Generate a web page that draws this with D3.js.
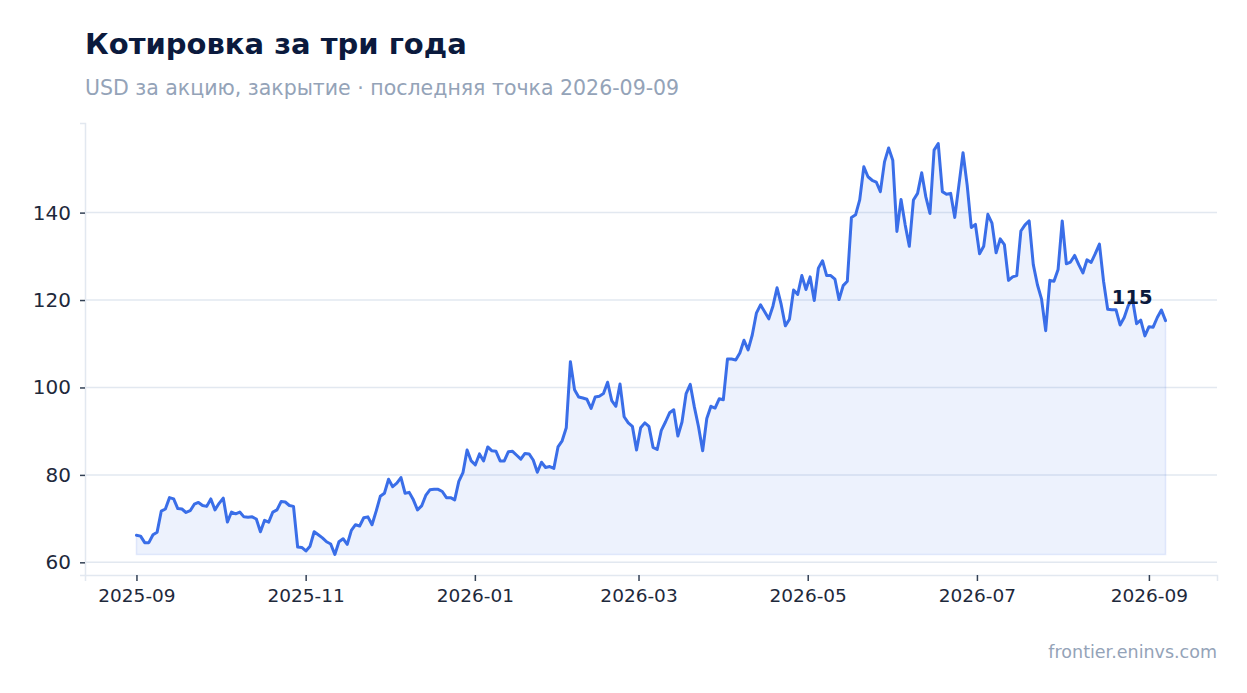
<!DOCTYPE html>
<html>
<head>
<meta charset="utf-8">
<script src="https://cdn.jsdelivr.net/npm/d3@7"></script>
<style>
  body { margin: 0; background: #fff; }
  svg { display: block; font-family: "DejaVu Sans", sans-serif; }
</style>
</head>
<body>
<div id="chart"></div>
<script>
// данные: цена закрытия, точки равномерно от первой до последней даты
const startDate = new Date(2025, 8, 1);
const endDate = new Date(2026, 8, 7);
const prices = [
  66.2, 66.0, 64.5, 64.5, 66.3, 66.9, 71.7, 72.2, 74.8, 74.5,
  72.3, 72.2, 71.4, 71.8, 73.3, 73.7, 73.0, 72.8, 74.5, 72.0,
  73.5, 74.7, 69.2, 71.5, 71.1, 71.5, 70.4, 70.3, 70.4, 69.9,
  67.0, 69.6, 69.2, 71.5, 72.0, 73.9, 73.8, 73.0, 72.8, 63.5,
  63.4, 62.6, 63.7, 67.0, 66.3, 65.6, 64.7, 64.2, 61.8, 64.7,
  65.4, 64.1, 67.3, 68.6, 68.3, 70.2, 70.4, 68.6, 71.7, 75.1,
  75.8, 79.0, 77.3, 78.1, 79.4, 75.8, 76.0, 74.3, 72.0, 72.9,
  75.3, 76.6, 76.7, 76.7, 76.2, 74.8, 74.8, 74.3, 78.5, 80.5,
  85.7, 83.2, 82.3, 84.8, 83.2, 86.4, 85.5, 85.4, 83.2, 83.2,
  85.3, 85.4, 84.5, 83.6, 84.9, 84.8, 83.4, 80.6, 82.9, 81.7,
  81.9, 81.5, 86.4, 87.8, 90.8, 105.9, 99.5, 97.8, 97.6, 97.3,
  95.2, 97.8, 98.0, 98.6, 101.2, 97.0, 95.7, 100.8, 93.3, 91.9,
  91.1, 85.7, 90.8, 91.9, 91.1, 86.3, 85.8, 90.2, 92.1, 94.2,
  94.9, 88.9, 92.1, 98.6, 100.7, 95.5, 91.0, 85.5, 92.9, 95.7,
  95.3, 97.4, 97.2, 106.5, 106.5, 106.3, 107.9, 110.8, 108.6, 112.0,
  117.0, 118.9, 117.3, 115.7, 118.6, 122.8, 119.0, 114.1, 115.6, 122.3,
  121.3, 125.6, 122.4, 125.3, 119.9, 127.3, 129.0, 125.6, 125.6, 124.8,
  120.1, 123.3, 124.3, 138.9, 139.5, 142.9, 150.5, 148.2, 147.4, 147.0,
  144.8, 151.6, 154.8, 152.0, 135.7, 143.0, 137.2, 132.3, 142.9, 144.4,
  149.1, 143.6, 139.8, 154.3, 155.8, 144.8, 144.2, 144.4, 138.9, 146.3,
  153.7, 146.3, 136.6, 137.3, 130.6, 132.3, 139.6, 137.6, 130.8, 134.0,
  132.7, 124.5, 125.3, 125.6, 135.8, 137.2, 138.1, 128.1, 123.5, 120.2,
  113.0, 124.5, 124.3, 127.0, 138.1, 128.3, 128.7, 130.2, 128.1, 126.2,
  129.2, 128.6, 130.6, 132.8, 124.3, 117.9, 117.8, 117.8, 114.3, 116.0,
  118.8, 120.2, 114.6, 115.4, 111.8, 113.9, 113.8, 116.0, 117.7, 115.3
];
const yTicks = [60, 80, 100, 120, 140];
const titleText = "Котировка за три года";
const subtitleText = "USD за акцию, закрытие · последняя точка 2026-09-09";
const sourceText = "frontier.eninvs.com";

const width = 1247, height = 693;
const margin = {top: 123, right: 30, bottom: 118, left: 85};

const step = (endDate - startDate) / (prices.length - 1);
const data = prices.map((v, i) => ({date: new Date(+startDate + i * step), value: v}));

const svg = d3.select("#chart")
  .append("svg")
  .attr("width", width)
  .attr("height", height);

// отступ 5% по краям как в оригинале
const xExt = d3.extent(data, d => d.date);
const xPad = (xExt[1] - xExt[0]) * 0.05;
const yExt = d3.extent(prices);
const yPad = (yExt[1] - yExt[0]) * 0.05;

const x = d3.scaleTime()
  .domain([new Date(+xExt[0] - xPad), new Date(+xExt[1] + xPad)])
  .range([margin.left, width - margin.right]);

const y = d3.scaleLinear()
  .domain([yExt[0] - yPad, yExt[1] + yPad])
  .range([height - margin.bottom, margin.top]);

const gridColor = "#e2e8f0";

// сетка
svg.append("g")
  .selectAll("line")
  .data(yTicks)
  .enter()
  .append("line")
  .attr("x1", margin.left)
  .attr("x2", width - margin.right)
  .attr("y1", d => y(d))
  .attr("y2", d => y(d))
  .attr("stroke", gridColor)
  .attr("stroke-width", 1.5);

// оси
const yAxis = d3.axisLeft(y)
  .tickValues(yTicks)
  .tickSize(5)
  .tickPadding(9)
  .tickFormat(d3.format(".0f"));

const gy = svg.append("g")
  .attr("transform", "translate(" + margin.left + ",0)")
  .call(yAxis);
gy.select(".domain").attr("stroke", gridColor).attr("stroke-width", 1.5);
gy.selectAll(".tick line").attr("stroke", "#334155").attr("stroke-width", 1.5);
gy.selectAll(".tick text")
  .attr("fill", "#1e293b")
  .style("font-size", "20px")
  .style("font-family", "DejaVu Sans");

const xAxis = d3.axisBottom(x)
  .ticks(d3.timeMonth.every(2))
  .tickSize(6)
  .tickPadding(8)
  .tickFormat(d3.timeFormat("%Y-%m"));

const gx = svg.append("g")
  .attr("transform", "translate(0," + (height - margin.bottom) + ")")
  .call(xAxis);
gx.select(".domain").attr("stroke", gridColor).attr("stroke-width", 1.5);
gx.selectAll(".tick line").attr("stroke", "#334155").attr("stroke-width", 1.5);
gx.selectAll(".tick text")
  .attr("fill", "#1e293b")
  .style("font-size", "18.5px")
  .style("font-family", "DejaVu Sans");

// заливка под линией до минимума
svg.append("path")
  .datum(data)
  .attr("fill", "#3b6fe8")
  .attr("fill-opacity", 0.09)
  .attr("stroke", "#3b6fe8")
  .attr("stroke-opacity", 0.12)
  .attr("stroke-width", 1.5)
  .attr("d", d3.area()
    .x(d => x(d.date))
    .y0(y(yExt[0]))
    .y1(d => y(d.value)));

svg.append("path")
  .datum(data)
  .attr("fill", "none")
  .attr("stroke", "#3a6ee8")
  .attr("stroke-width", 3)
  .attr("stroke-linejoin", "round")
  .attr("stroke-linecap", "round")
  .attr("d", d3.line()
    .x(d => x(d.date))
    .y(d => y(d.value)));

// подпись последней точки
const last = data[data.length - 1];
svg.append("text")
  .attr("x", x(last.date) - 13)
  .attr("y", y(last.value) - 17)
  .attr("text-anchor", "end")
  .attr("fill", "#0b1a3d")
  .style("font-size", "19.5px")
  .style("font-weight", "bold")
  .text(d3.format(".0f")(last.value));

// заголовки
svg.append("text")
  .attr("x", margin.left)
  .attr("y", 54)
  .attr("fill", "#0b1a3d")
  .style("font-size", "29px")
  .style("font-weight", "bold")
  .text(titleText);

svg.append("text")
  .attr("x", margin.left)
  .attr("y", 95)
  .attr("fill", "#94a3b8")
  .style("font-size", "20.5px")
  .text(subtitleText);

svg.append("text")
  .attr("x", width - margin.right)
  .attr("y", 658)
  .attr("text-anchor", "end")
  .attr("fill", "#94a3b8")
  .style("font-size", "17.5px")
  .text(sourceText);
</script>
</body>
</html>
